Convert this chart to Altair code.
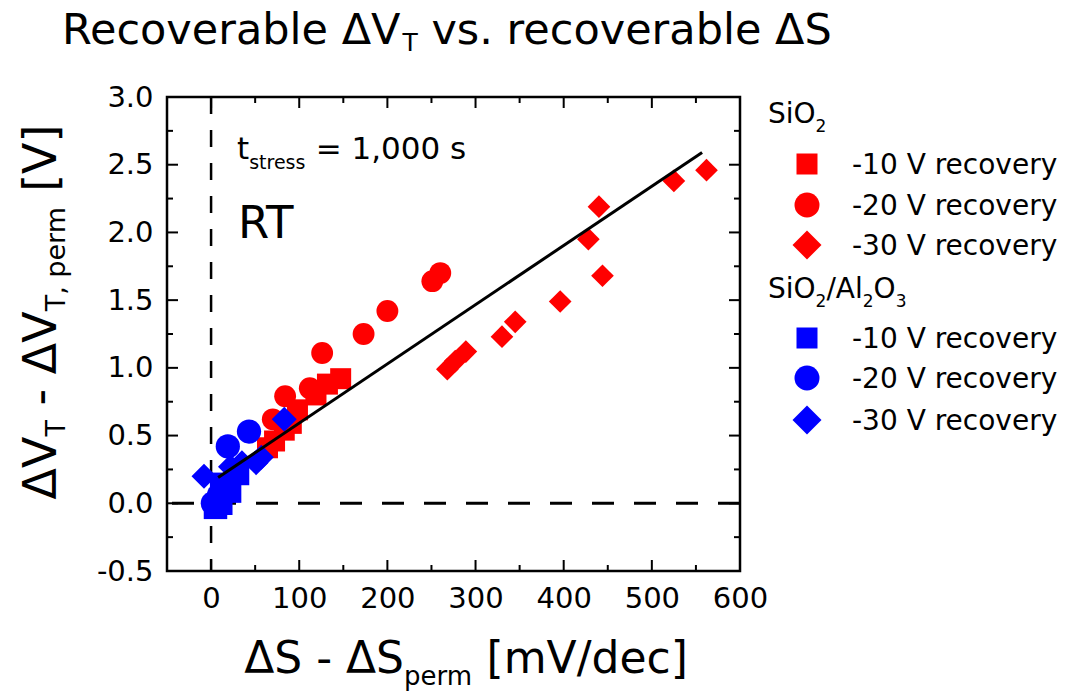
import altair as alt
import pandas as pd

# ---------------- data ----------------
sio2_10_x = [64, 72, 83, 91, 98, 119, 132, 147]
sio2_10_y = [0.41, 0.46, 0.54, 0.59, 0.69, 0.80, 0.88, 0.92]
sio2_20_x = [70, 84, 112, 126, 173, 200, 251, 260]
sio2_20_y = [0.62, 0.79, 0.85, 1.11, 1.25, 1.42, 1.64, 1.70]
sio2_30_x = [268, 277, 289, 330, 345, 396, 428, 444, 440, 525, 562]
sio2_30_y = [0.99, 1.05, 1.12, 1.23, 1.34, 1.49, 1.95, 1.68, 2.19, 2.38, 2.46]
al_10_x = [5, 11, 12, 21, 30]
al_10_y = [-0.03, 0.0, 0.14, 0.09, 0.22]
al_20_x = [2, 9, 19, 43]
al_20_y = [0.0, 0.06, 0.42, 0.53]
al_30_x = [-8, 22, 35, 51, 57, 83]
al_30_y = [0.20, 0.27, 0.30, 0.30, 0.34, 0.62]
fit_x = [8, 557]
fit_y = [0.19, 2.59]

x_major = [0, 100, 200, 300, 400, 500, 600]
x_minor = [50, 150, 250, 350, 450, 550]
y_major = [-0.5, 0.0, 0.5, 1.0, 1.5, 2.0, 2.5, 3.0]
y_minor = [-0.25, 0.25, 0.75, 1.25, 1.75, 2.25, 2.75]

series = ["SiO2 -10", "SiO2 -20", "SiO2 -30", "Al -10", "Al -20", "Al -30"]
series_x = [sio2_10_x, sio2_20_x, sio2_30_x, al_10_x, al_20_x, al_30_x]
series_y = [sio2_10_y, sio2_20_y, sio2_30_y, al_10_y, al_20_y, al_30_y]
series_color = ["#FF0000", "#FF0000", "#FF0000", "#0000FF", "#0000FF", "#0000FF"]
series_shape = ["square", "circle", "diamond", "square", "circle", "diamond"]
series_size = [441, 625, 841, 441, 625, 841]
legend_labels = ["-10 V recovery", "-20 V recovery", "-30 V recovery"] * 2

rows = []
for i, name in enumerate(series):
    for xv, yv in zip(series_x[i], series_y[i]):
        rows.append({"x": xv, "y": yv, "s": name, "order": i})
pts = pd.DataFrame(rows)

# ---------------- layout ----------------
FONT = "DejaVu Sans"
OX, OY = 167, 97          # plot origin in page pixels
W_, H_ = 573, 474         # plot size

xs = alt.Scale(domain=[-50, 600], nice=False, zero=False)
ys = alt.Scale(domain=[-0.5, 3.0], nice=False, zero=False)
x_axis = alt.Axis(values=x_major, title=None, ticks=False, domain=False, grid=False,
                  labelFont=FONT, labelFontSize=29, labelColor="black", labelPadding=13,
                  labelFlush=False, labelOverlap=False)
y_axis = alt.Axis(values=y_major, title=None, ticks=False, domain=False,
                  grid=False, labelFont=FONT, labelFontSize=29, labelColor="black",
                  labelPadding=14, labelFlush=False, labelOverlap=False,
                  labelExpr="datum.value < 0 ? '-' + format(-datum.value, '.1f') : format(datum.value, '.1f')")


def X(field):
    return alt.X(field, scale=xs, axis=x_axis, title=None)


def Y(field):
    return alt.Y(field, scale=ys, axis=y_axis, title=None)


WID = {' ': .318, '-': .361, '.': .318, ',': .318, '/': .337, '=': .838, '[': .390,
       ']': .390, 'A': .684, 'I': .295, 'O': .787, 'R': .695, 'S': .635, 'T': .611,
       'V': .684, 'a': .613, 'b': .635, 'c': .550, 'd': .635, 'e': .615, 'i': .278,
       'l': .278, 'm': .974, 'o': .612, 'p': .635, 'r': .411, 's': .521, 't': .392,
       'v': .592, 'y': .592, 'Δ': .684}
for d in "0123456789":
    WID[d] = .636


def tw(s, size):
    return sum(WID.get(c, 0.6) for c in s) * size


def text_layer(s, x, y, size, angle=0):
    kw = dict(align="left", baseline="alphabetic", font=FONT, fontSize=size, color="black")
    if angle:
        kw["angle"] = angle
    return alt.Chart(pd.DataFrame({"t": [s]})).mark_text(**kw).encode(
        x=alt.value(x - OX), y=alt.value(y - OY), text="t:N")


def rich(segs, x0, y0, angle=0):
    layers = []
    pos = 0.0
    for s, size, dy in segs:
        st = s.lstrip(" ")
        pos += (len(s) - len(st)) * WID[" "] * size
        core = st.rstrip(" ")
        if angle == 0:
            layers.append(text_layer(core, x0 + pos, y0 + dy, size))
        else:
            layers.append(text_layer(core, x0 + dy, y0 - pos, size, angle))
        pos += tw(st, size)
    return layers


def rich_width(segs):
    return sum(tw(s, size) for s, size, dy in segs)


layers = []

# dashed reference lines
layers.append(alt.Chart(pd.DataFrame({"v": [0]})).mark_rule(
    color="black", strokeWidth=3, strokeDash=[22, 20]).encode(y=Y("v:Q")))
layers.append(alt.Chart(pd.DataFrame({"v": [0]})).mark_rule(
    color="black", strokeWidth=2.5, strokeDash=[17, 16]).encode(x=X("v:Q")))

# points
layers.append(alt.Chart(pts).mark_point(filled=True, opacity=1, strokeWidth=0).encode(
    x=X("x:Q"),
    y=Y("y:Q"),
    color=alt.Color("s:N", scale=alt.Scale(domain=series, range=series_color), legend=None),
    shape=alt.Shape("s:N", scale=alt.Scale(domain=series, range=series_shape), legend=None),
    size=alt.Size("s:N", scale=alt.Scale(domain=series, range=series_size), legend=None),
    order=alt.Order("order:Q"),
))

# fit line
layers.append(alt.Chart(pd.DataFrame({"x": fit_x, "y": fit_y})).mark_line(
    color="black", strokeWidth=3).encode(x=X("x:Q"), y=Y("y:Q")))

# inside ticks (bottom, top, left, right)
for vals, ln in ((x_major, 11), (x_minor, 6)):
    d = pd.DataFrame({"v": vals})
    layers.append(alt.Chart(d).mark_rule(color="black", strokeWidth=2).encode(
        x=X("v:Q"), y=alt.value(H_), y2=alt.value(H_ - ln)))
    layers.append(alt.Chart(d).mark_rule(color="black", strokeWidth=2).encode(
        x=X("v:Q"), y=alt.value(0), y2=alt.value(ln)))
for vals, ln in ((y_major, 11), (y_minor, 6)):
    d = pd.DataFrame({"v": vals})
    layers.append(alt.Chart(d).mark_rule(color="black", strokeWidth=2).encode(
        y=Y("v:Q"), x=alt.value(0), x2=alt.value(ln)))
    layers.append(alt.Chart(d).mark_rule(color="black", strokeWidth=2).encode(
        y=Y("v:Q"), x=alt.value(W_), x2=alt.value(W_ - ln)))

# title
layers += rich([("Recoverable ΔV", 43, 0), ("T", 25, 7), (" vs. recoverable ΔS", 43, 0)], 62, 44)

# x axis title
xt_segs = [("ΔS - ΔS", 44, 0), ("perm", 26, 12), (" [mV/dec]", 44, 0)]
layers += rich(xt_segs, 466 - rich_width(xt_segs) / 2, 673)

# y axis title (rotated)
yt_segs = [("ΔV", 46, 0), ("T", 27, 9), (" - ΔV", 46, 0), ("T, perm", 27, 9), (" [V]", 46, 0)]
layers += rich(yt_segs, 56, 312 + rich_width(yt_segs) / 2, angle=270)

# annotations
layers += rich([("t", 31, 0), ("stress", 19, 10), (" = 1,000 s", 31, 0)], 237, 159)
layers += rich([("RT", 45, 0)], 238, 238)

# legend
layers += rich([("SiO", 28, 0), ("2", 17, 9)], 768, 123)
layers += rich([("SiO", 28, 0), ("2", 17, 9), ("/Al", 28, 0), ("2", 17, 9), ("O", 28, 0),
                ("3", 17, 9)], 768, 298)
leg_y = [164, 205, 245, 338, 378, 420]
for i in range(6):
    layers.append(alt.Chart(pd.DataFrame({"k": [series[i]]})).mark_point(
        filled=True, opacity=1, strokeWidth=0, shape=series_shape[i],
        size=series_size[i], color=series_color[i]).encode(
        x=alt.value(807 - OX), y=alt.value(leg_y[i] - OY)))
    layers += rich([(legend_labels[i], 28, 0)], 852, leg_y[i] + 10)

chart = alt.layer(*layers).properties(
    width=W_, height=H_,
    padding={"left": OX, "top": OY, "right": 1074 - OX - W_, "bottom": 698 - OY - H_},
    autosize=alt.AutoSizeParams(type="none"),
    background="white",
).configure_view(stroke="black", strokeWidth=2.5)

chart.save("out.html", embed_options={"renderer": "svg", "actions": False})
